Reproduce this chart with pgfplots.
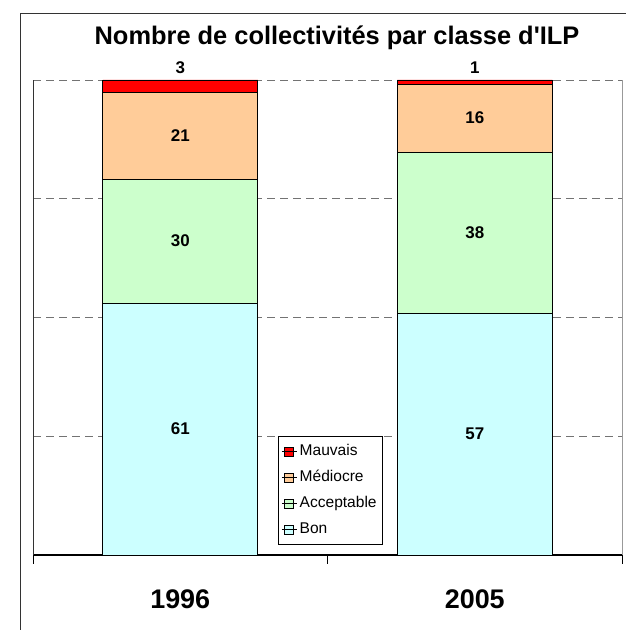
\documentclass[border=0pt]{standalone}
\usepackage{pgfplots}
\pgfplotsset{compat=1.18}
\usepackage{pgfplotstable}
\usepackage{fontspec}
\setmainfont{Liberation Sans}

\definecolor{cMauvais}{HTML}{FF0000}
\definecolor{cMediocre}{HTML}{FFCC99}
\definecolor{cAccept}{HTML}{CCFFCC}
\definecolor{cBon}{HTML}{CCFFFF}

% counts per class; bars are drawn as share of Total (100% stacked)
\pgfplotstableread{
x   Bon Acceptable Mediocre Mauvais Total
0.5 61  30         21       3       115
1.5 57  38         16       1       112
}\ilp

\begin{document}
\begin{tikzpicture}[x=1bp,y=1bp]
\useasboundingbox (0,0) rectangle (626,630);
\draw[black!80, line width=1.2bp] (20.5,-5) -- (20.5,616.5) -- (640,616.5);
\node[anchor=base, font=\fontsize{25.5}{30}\selectfont\bfseries] at (337,585)
  {Nombre de collectivités par classe d\textquotesingle ILP};
\begin{axis}[
  at={(33bp,75bp)}, anchor=south west, scale only axis,
  width=589bp, height=475bp,
  xmin=0, xmax=2, ymin=0, ymax=100,
  clip=false,
  ybar stacked, bar width=155bp,
  axis line style={draw=none},
  ytick={25,50,75,100}, yticklabels={}, ytick style={draw=none},
  ymajorgrids, grid style={black!55, line width=0.8bp, dash pattern=on 8bp off 5bp},
  xtick={0,1,2}, xticklabels={}, xtick pos=bottom, xtick align=outside,
  major tick length=9bp, xtick style={black, line width=1bp},
  /pgf/number format/assume math mode=true,
  legend cell align=left,
  legend style={at={(rel axis cs:0.416,0.021)}, anchor=south west,
    draw=black, line width=0.8bp, font=\fontsize{15.6}{18}\selectfont,
    nodes={text height=11bp, text depth=3bp, inner ysep=6bp, inner xsep=2.5bp},
    row sep=0pt},
  reverse legend,
  legend image code/.code={\draw[#1, draw=black, line width=0.6bp] (2.5bp,-4.5bp) rectangle (11.5bp,4.5bp);
    \path (0bp,0bp) -- (15bp,0bp);},
  nodes near coords, point meta=explicit,
  every node near coord/.style={font=\fontsize{17}{20}\selectfont\bfseries, text=black, anchor=center},
]
\addplot[fill=cBon, draw=black, line width=0.8bp]
  table[x=x, y expr=\thisrow{Bon}/\thisrow{Total}*100, meta=Bon] {\ilp};
\addlegendentry{Bon}
\addplot[fill=cAccept, draw=black, line width=0.8bp]
  table[x=x, y expr=\thisrow{Acceptable}/\thisrow{Total}*100, meta=Acceptable] {\ilp};
\addlegendentry{Acceptable}
\addplot[fill=cMediocre, draw=black, line width=0.8bp]
  table[x=x, y expr=\thisrow{Mediocre}/\thisrow{Total}*100, meta=Mediocre] {\ilp};
\addlegendentry{Médiocre}
% small class: label set just above the bar
\addplot[fill=cMauvais, draw=black, line width=0.8bp,
  visualization depends on={\thisrow{Mauvais}/\thisrow{Total}*100 \as \hh},
  every node near coord/.append style={yshift={2.375bp*\hh+12bp}}]
  table[x=x, y expr=\thisrow{Mauvais}/\thisrow{Total}*100, meta=Mauvais] {\ilp};
\addlegendentry{Mauvais}
% frame of the plot area
\draw[black!80, line width=0.8bp] (rel axis cs:0,0) -- (rel axis cs:0,1);
\draw[black!40, line width=0.8bp] (rel axis cs:1,0) -- (rel axis cs:1,1);
\draw[black, line width=1.2bp] (rel axis cs:0,0) -- (rel axis cs:1,0);
\node[anchor=base, font=\fontsize{27}{32}\selectfont\bfseries] at ([yshift=-53bp]axis cs:0.5,0) {1996};
\node[anchor=base, font=\fontsize{27}{32}\selectfont\bfseries] at ([yshift=-53bp]axis cs:1.5,0) {2005};
\end{axis}
\end{tikzpicture}
\end{document}
